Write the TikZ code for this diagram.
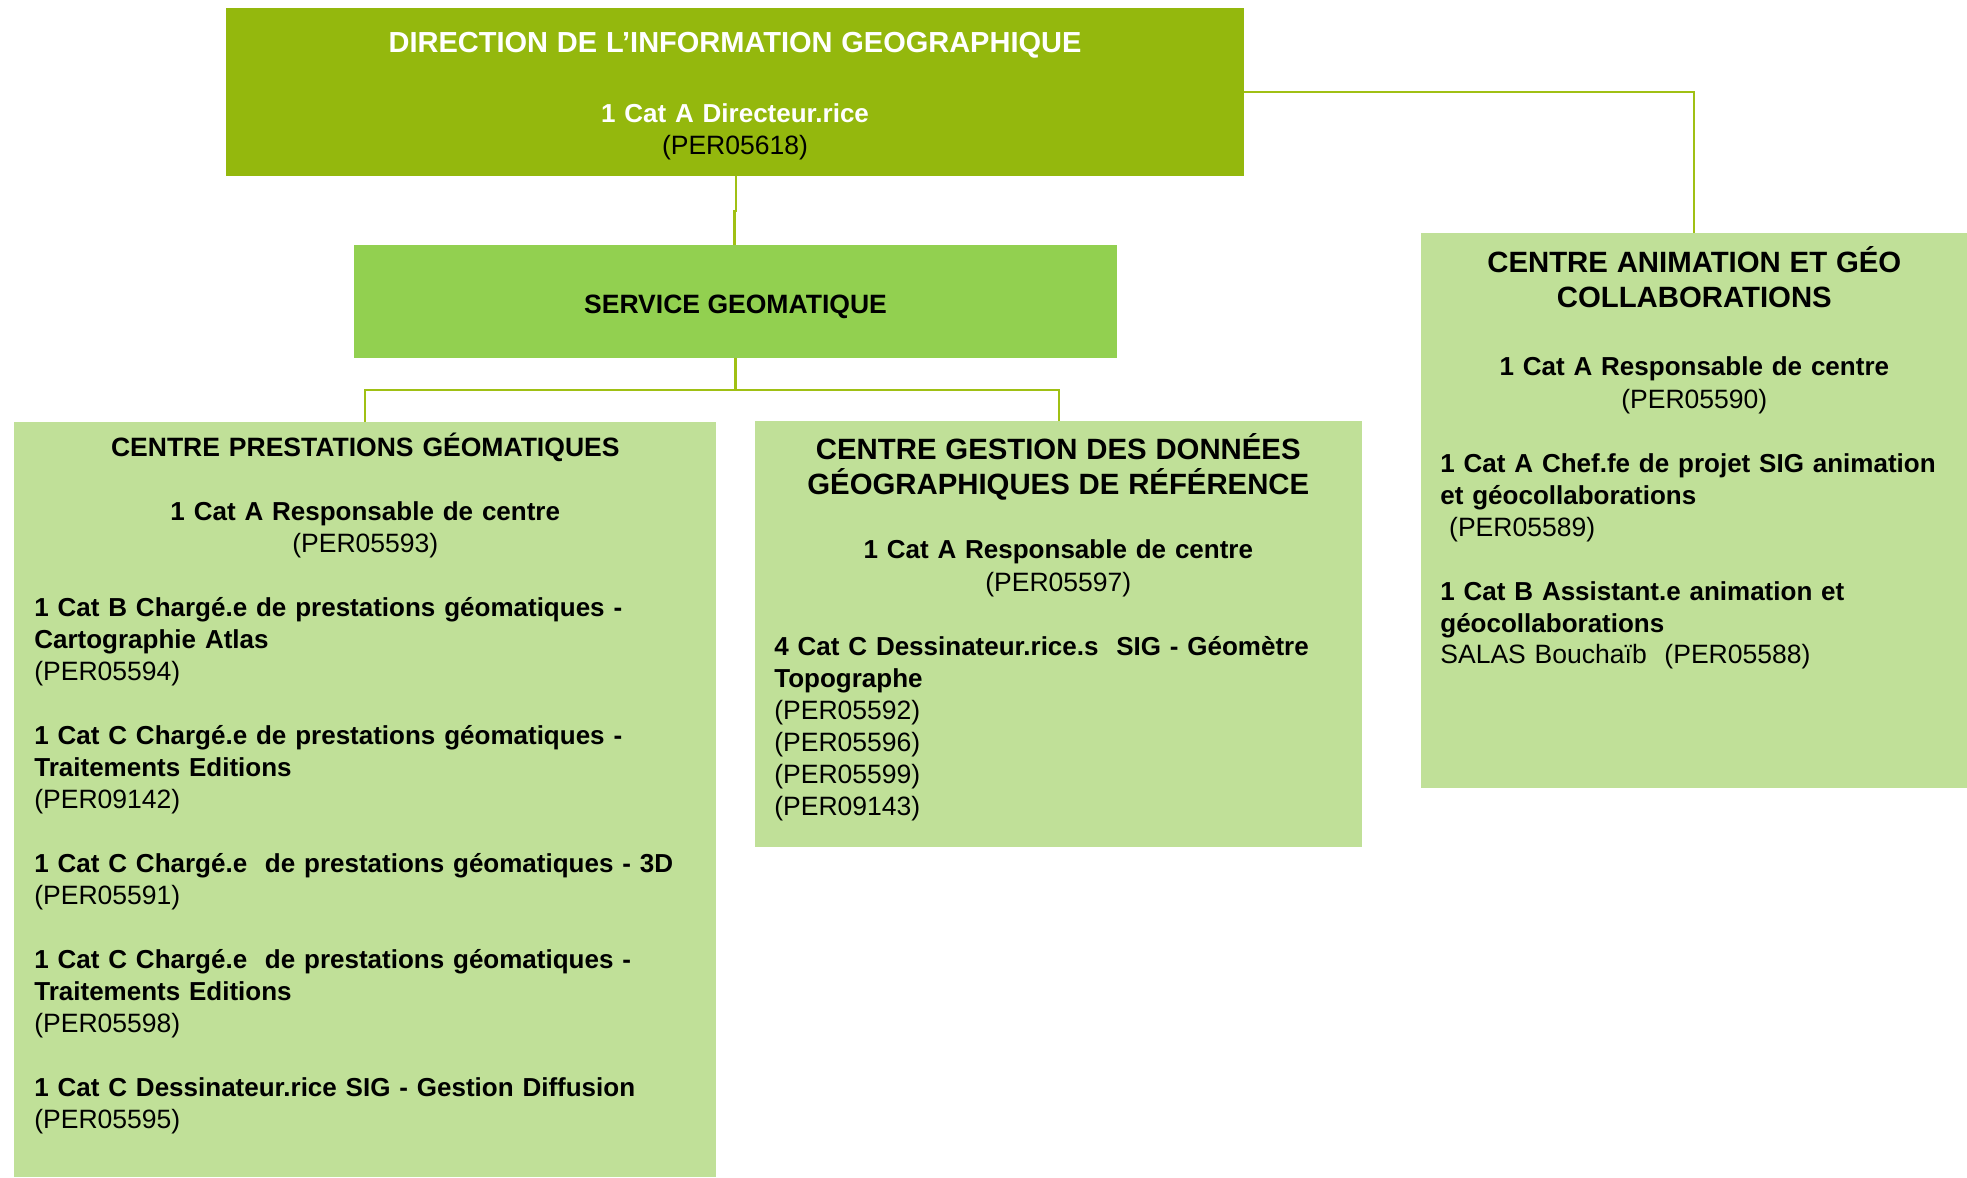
\documentclass[tikz,border=0pt]{standalone}
\usepackage{fontspec}
\setmainfont{Liberation Sans}
\definecolor{dirgreen}{HTML}{94B80D}
\definecolor{servgreen}{HTML}{92D050}
\definecolor{centregreen}{HTML}{C0E098}
\definecolor{linkgreen}{HTML}{A0C014}
\setlength{\parskip}{0pt}
\frenchspacing
\newcommand{\poste}[1]{{\fontsize{14.8}{18.2}\selectfont\bfseries #1}}
\begin{document}
\begin{tikzpicture}[
    x=0.02cm, y=-0.02cm,
    box/.style={
      rectangle,
      inner sep=0pt,
      draw=none
    },
    entry/.style={
      inner sep=0pt,
      anchor=base west,
      align=left,
      font=\fontsize{15.1}{18.2}\selectfont
    },
    link/.style={draw=linkgreen, line width=1.15pt}
  ]
  \useasboundingbox (0,0) rectangle (1967,1177);

  % boxes
  \node[box, fill=dirgreen, minimum width=20.36cm, minimum height=3.36cm] (dir) at (735, 92) {};
  \node[box, fill=servgreen, minimum width=15.26cm, minimum height=2.26cm,
    text height=13.1pt, text depth=0pt,
    font=\fontsize{15.1}{18.2}\selectfont\bfseries] (serv) at (735.5, 301.5) {SERVICE GEOMATIQUE};
  \node[box, fill=centregreen, minimum width=14.04cm, minimum height=15.1cm] (cpg) at (365, 799.5) {};
  \node[box, fill=centregreen, minimum width=12.16cm, minimum height=8.52cm] (cgd) at (1058.5, 634) {};
  \node[box, fill=centregreen, minimum width=10.92cm, minimum height=11.1cm] (anim) at (1694, 510.5) {};

  % links
  \draw[link] ([xshift=0.02cm]dir.south) -- ++(0, 35) -| ([xshift=-0.02cm]serv.north);
  \draw[link] (dir.east) -| (anim.north);
  \draw[link] (serv.south) -- ++(0, 32) coordinate (split);
  \draw[link] (split) -| (cpg.north);
  \draw[link] (split) -| (cgd.north);

  % texts
  \node[entry, anchor=base, text width=19cm, align=center] (dirtxt) at (735, 52) {%
    {\color{white}\bfseries\fontsize{16.5}{18.2}\selectfont DIRECTION DE L’INFORMATION GEOGRAPHIQUE}\\[21.8pt]
    {\color{white}\poste{1 Cat A Directeur.rice}}\\[0.3pt]
    (PER05618)};

  \node[entry, text width=13.24cm] (cpgtxt) at (34, 456.6) {%
    {\centering\textbf{CENTRE PRESTATIONS GÉOMATIQUES}\\[18.2pt]
    \poste{1 Cat A Responsable de centre}\\
    (PER05593)\par}
    \vspace{18.2pt}
    \poste{1 Cat B Chargé.e de prestations géomatiques -\\Cartographie Atlas}\\
    (PER05594)\\[18.2pt]
    \poste{1 Cat C Chargé.e de prestations géomatiques -\\Traitements Editions}\\
    (PER09142)\\[18.2pt]
    \poste{1 Cat C Chargé.e\ \ de prestations géomatiques - 3D}\\
    (PER05591)\\[18.2pt]
    \poste{1 Cat C Chargé.e\ \ de prestations géomatiques -\\Traitements Editions}\\
    (PER05598)\\[18.2pt]
    \poste{1 Cat C Dessinateur.rice SIG - Gestion Diffusion}\\
    (PER05595)};

  \node[entry, text width=11.36cm] (cgdtxt) at (774, 459.6) {%
    {\centering{\bfseries\fontsize{16.7}{18.2}\selectfont CENTRE GESTION DES DONNÉES\\[1.8pt]
    GÉOGRAPHIQUES DE RÉFÉRENCE}\\[18.3pt]
    \poste{1 Cat A Responsable de centre}\\[0.3pt]
    (PER05597)\par}
    \vspace{18.2pt}
    \poste{4 Cat C Dessinateur.rice.s\ \ SIG - Géomètre\\Topographe}\\
    (PER05592)\\
    (PER05596)\\
    (PER05599)\\
    (PER09143)};

  \node[entry, text width=10.16cm] (animtxt) at (1440, 272.7) {%
    {\centering{\bfseries\fontsize{16.7}{18.2}\selectfont CENTRE ANIMATION ET GÉO\\[1.8pt]
    COLLABORATIONS}\\[20.4pt]
    \poste{1 Cat A Responsable de centre}\\[0.3pt]
    (PER05590)\par}
    \vspace{18.2pt}
    \poste{1 Cat A Chef.fe de projet SIG animation\\et géocollaborations}\\
    \mbox{}\ (PER05589)\\[18.2pt]
    \poste{1 Cat B Assistant.e animation et\\géocollaborations}\\
    SALAS Bouchaïb\ \ (PER05588)};
\end{tikzpicture}
\end{document}
